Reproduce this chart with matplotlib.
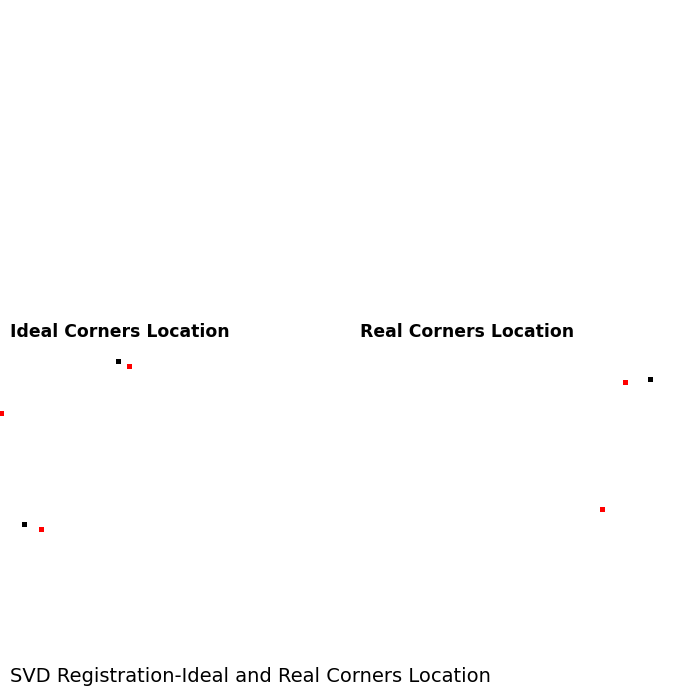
import matplotlib
matplotlib.use("Agg")
import matplotlib.pyplot as plt

# corner locations (image pixel coordinates)
ideal_x = [118, 24, 650]
ideal_y = [361, 524, 379]
real_x = [129, 1, 41, 625, 602]
real_y = [366, 413, 529, 382, 509]

titles = ["Ideal Corners Location", "Real Corners Location",
          "SVD Registration-Ideal and Real Corners Location"]
title_x = [10, 360, 10]
title_y = [332, 332, 677]
title_weight = ["bold", "bold", "normal"]
title_size = [12.4, 12.4, 14]

fig = plt.figure(figsize=(7, 7), dpi=100)
ax = fig.add_axes([0, 0, 1, 1])
ax.set_xlim(0, 700)
ax.set_ylim(700, 0)
ax.axis("off")

ax.plot(ideal_x, ideal_y, "s", color="black", markersize=3.6, markeredgewidth=0)
ax.plot(real_x, real_y, "s", color="red", markersize=3.6, markeredgewidth=0)

for t, x, y, w, s in zip(titles, title_x, title_y, title_weight, title_size):
    ax.text(x, y, t, ha="left", va="center", fontsize=s, fontweight=w,
            family="DejaVu Sans")

fig.savefig("out.png", dpi=100)
